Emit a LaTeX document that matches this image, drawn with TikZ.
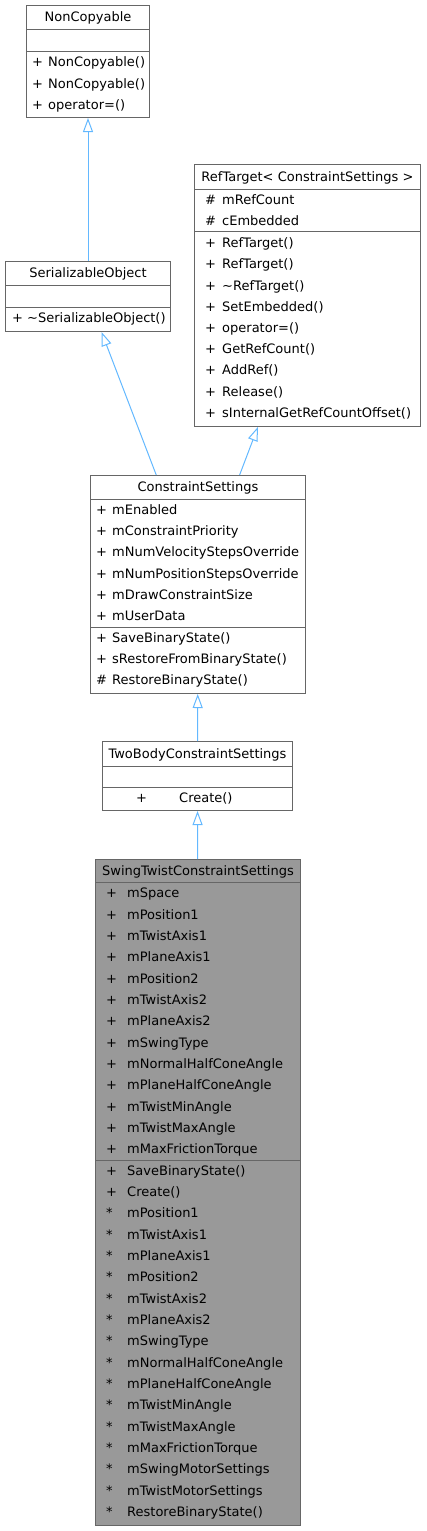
\documentclass[tikz,border=0pt]{standalone}
\usepackage{fontspec}
\setmainfont{DejaVu Sans}
\usepackage{tikz}
\usetikzlibrary{positioning, arrows.meta, calc}
\definecolor{EdgeColor}{RGB}{99,184,255}
\definecolor{BorderColor}{RGB}{102,102,102}
\definecolor{FocusColor}{RGB}{153,153,153}

\begin{document}
\begin{tikzpicture}[x=1pt, y=-1pt,
    classbox/.style={draw=BorderColor, fill=white, line width=1pt, inner sep=0pt, anchor=north west},
    row/.style={anchor=west, inner sep=0pt, text height=9.5pt, text depth=0pt, font=\fontsize{13}{15}\selectfont},
    title/.style={row, anchor=center},
    sep/.style={draw=BorderColor, line width=1pt},
    inherit/.style={draw=EdgeColor, line width=1pt, -{Triangle[open, length=14pt, width=10pt]}}]
  \useasboundingbox (0,0) rectangle (426,1531);

  \node[classbox, minimum width=123pt, minimum height=112pt] (nc) at (26,5) {};
  \node[title] (nc-title) at (nc.north |- 0,17) {NonCopyable};
  \draw[sep] (nc.west |- 0,29) -- (nc.east |- 0,29);
  \draw[sep] (nc.west |- 0,51) -- (nc.east |- 0,51);
  \foreach \v/\t [count=\i from 0] in {+/NonCopyable(), +/NonCopyable(), +/operator=()} {
    \node[row] (nc-v\i) at (32, 62+21.33*\i) {\v};
    \node[row] (nc-t\i) at (48, 62+21.33*\i) {\t};
  }

  \node[classbox, minimum width=165pt, minimum height=70pt] (so) at (5,261) {};
  \node[title] (so-title) at (so.north |- 0,273) {SerializableObject};
  \draw[sep] (so.west |- 0,285) -- (so.east |- 0,285);
  \draw[sep] (so.west |- 0,307) -- (so.east |- 0,307);
  \node[row] (so-v0) at (12,318) {+};
  \node[row] (so-t0) at (27,318) {\textasciitilde SerializableObject()};

  \node[classbox, minimum width=226pt, minimum height=262pt] (rt) at (194,164) {};
  \node[title] (rt-title) at (rt.north |- 0,176.5) {RefTarget< ConstraintSettings >};
  \draw[sep] (rt.west |- 0,189) -- (rt.east |- 0,189);
  \draw[sep] (rt.west |- 0,231) -- (rt.east |- 0,231);
  \foreach \t [count=\i from 0] in {mRefCount, cEmbedded} {
    \node[row] (rt-av\i) at (205, 200+21.2*\i) {\#};
    \node[row] (rt-at\i) at (222, 200+21.2*\i) {\t};
  }
  \foreach \t [count=\i from 0] in {RefTarget(), RefTarget(), \textasciitilde RefTarget(), SetEmbedded(), operator=(), GetRefCount(), AddRef(), Release(), sInternalGetRefCountOffset()} {
    \node[row] (rt-mv\i) at (205, 243+21.2*\i) {+};
    \node[row] (rt-mt\i) at (222, 243+21.2*\i) {\t};
  }

  \node[classbox, minimum width=215pt, minimum height=218pt] (cs) at (90,475) {};
  \node[title] (cs-title) at (cs.north |- 0,487) {ConstraintSettings};
  \draw[sep] (cs.west |- 0,499) -- (cs.east |- 0,499);
  \draw[sep] (cs.west |- 0,627) -- (cs.east |- 0,627);
  \foreach \t [count=\i from 0] in {mEnabled, mConstraintPriority, mNumVelocityStepsOverride, mNumPositionStepsOverride, mDrawConstraintSize, mUserData} {
    \node[row] (cs-av\i) at (96, 509.5+21.33*\i) {+};
    \node[row] (cs-at\i) at (112, 509.5+21.33*\i) {\t};
  }
  \foreach \v/\t [count=\i from 0] in {+/SaveBinaryState(), +/sRestoreFromBinaryState(), \#/RestoreBinaryState()} {
    \node[row] (cs-mv\i) at (96, 637.5+21.33*\i) {\v};
    \node[row] (cs-mt\i) at (112, 637.5+21.33*\i) {\t};
  }

  \node[classbox, minimum width=190pt, minimum height=69pt] (tb) at (102,741) {};
  \node[title] (tb-title) at (tb.north |- 0,753.5) {TwoBodyConstraintSettings};
  \draw[sep] (tb.west |- 0,766) -- (tb.east |- 0,766);
  \draw[sep] (tb.west |- 0,787) -- (tb.east |- 0,787);
  \node[row] (tb-v0) at (136,798) {+};
  \node[row] (tb-t0) at (179,798) {Create()};

  \node[classbox, fill=FocusColor, minimum width=205pt, minimum height=666pt] (st) at (95,859) {};
  \node[title] (st-title) at (st.north |- 0,870.5) {SwingTwistConstraintSettings};
  \draw[sep] (st.west |- 0,882) -- (st.east |- 0,882);
  \draw[sep] (st.west |- 0,1160) -- (st.east |- 0,1160);
  \foreach \t [count=\i from 0] in {mSpace, mPosition1, mTwistAxis1, mPlaneAxis1, mPosition2, mTwistAxis2, mPlaneAxis2, mSwingType, mNormalHalfConeAngle, mPlaneHalfConeAngle, mTwistMinAngle, mTwistMaxAngle, mMaxFrictionTorque} {
    \node[row] (st-av\i) at (106, 893+21.33*\i) {+};
    \node[row] (st-at\i) at (127, 893+21.33*\i) {\t};
  }
  \foreach \v/\t [count=\i from 0] in {+/SaveBinaryState(), +/Create(), */mPosition1, */mTwistAxis1, */mPlaneAxis1, */mPosition2, */mTwistAxis2, */mPlaneAxis2, */mSwingType, */mNormalHalfConeAngle, */mPlaneHalfConeAngle, */mTwistMinAngle, */mTwistMaxAngle, */mMaxFrictionTorque, */mSwingMotorSettings, */mTwistMotorSettings, */RestoreBinaryState()} {
    \node[row] (st-mv\i) at (106, 1170.5+21.33*\i) {\v};
    \node[row] (st-mt\i) at (127, 1170.5+21.33*\i) {\t};
  }

  \draw[inherit] (so) -- (nc);
  \draw[inherit] (cs) -- (so);
  \draw[inherit] (cs) -- (rt);
  \draw[inherit] (tb) -- (cs);
  \draw[inherit] (st) -- (tb);
\end{tikzpicture}
\end{document}
